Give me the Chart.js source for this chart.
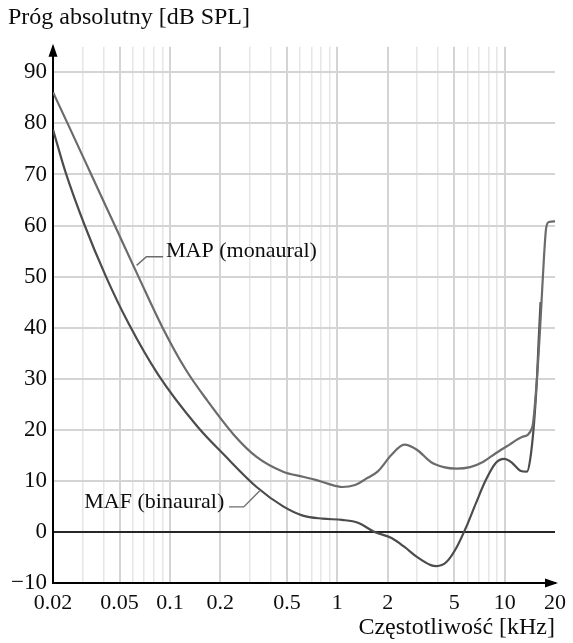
<!DOCTYPE html>
<html>
<head>
<meta charset="utf-8">
<script src="https://cdn.jsdelivr.net/npm/chart.js@4.4.1/dist/chart.umd.min.js"></script>
<style>
  html, body { margin: 0; padding: 0; background: #fff; overflow: hidden; }
  #wrap { width: 573px; height: 643px; position: relative; }
</style>
</head>
<body>
<div id="wrap"><canvas id="c"></canvas></div>
<script>
// Absolute threshold of hearing: minimum audible pressure (monaural)
const freqMAP = [0.02, 0.02444, 0.03384, 0.04683, 0.06481, 0.08973, 0.1242, 0.1673, 0.2412, 0.3294, 0.4748, 0.6223, 0.7422, 0.8854, 1.07, 1.276, 1.52, 1.74, 2.11, 2.51, 2.99, 3.62, 4.32, 5.15, 6.22, 7.42, 8.85, 10.7, 12.7, 14.6, 15.6, 16.3, 16.8, 17.2, 17.7, 18.4, 20];
const dbMAP   = [86.1, 80, 70, 60, 50, 40.2, 31.8, 25.7, 19.0, 14.7, 11.8, 10.8, 10.2, 9.4, 8.8, 9.2, 10.6, 11.8, 15.1, 17.1, 16.1, 13.7, 12.7, 12.4, 12.7, 13.7, 15.4, 17.1, 18.6, 20.4, 30, 40, 48, 54, 59.5, 60.7, 60.8];

// Minimum audible field (binaural)
const freqMAF = [0.02, 0.02379, 0.03078, 0.04146, 0.05662, 0.085, 0.1462, 0.2106, 0.3294, 0.4748, 0.6223, 0.8162, 1.07, 1.329, 1.67, 2.11, 2.51, 2.99, 3.62, 3.92, 4.49, 5.15, 5.9, 6.75, 7.73, 8.85, 9.96, 11.1, 12.4, 13.6, 14.2, 15.0, 15.6, 16.0, 16.4];
const dbMAF   = [78.8, 70.4, 60.2, 50.0, 40.8, 30.8, 20.6, 15.1, 8.8, 5.0, 3.2, 2.6, 2.35, 1.8, 0, -1.2, -2.9, -4.9, -6.5, -6.7, -5.9, -3.1, 1.0, 5.7, 10.2, 13.5, 14.3, 13.5, 12.0, 11.8, 14.1, 21.4, 30, 38, 45];

const seriesNames = ['MAP (monaural)', 'MAF (binaural)'];

// Frequency axis (kHz): labelled ticks
const xLabelValues = [0.02, 0.05, 0.1, 0.2, 0.5, 1, 2, 5, 10, 20];
const xLabelTexts  = ['0.02', '0.05', '0.1', '0.2', '0.5', '1', '2', '5', '10', '20'];

// Level axis (dB SPL)
const yMin = -10, yMax = 95, yGridStep = 5, yLabelStep = 10, yLabelTop = 90;

const yTitle = 'Próg absolutny [dB SPL]';
const xTitle = 'Częstotliwość [kHz]';

const FONT = "'Liberation Serif', 'Times New Roman', serif";
const INK = '#0d0d0d';

const toPoints = (xs, ys) => xs.map((x, i) => ({ x: x, y: ys[i] }));
const isLabelled = v => xLabelValues.some(t => Math.abs(t - v) < 1e-9);

// Curve captions with leader lines, anchored in data space
const captions = [
  { text: seriesNames[0], align: 'left',  at: [0.0947, 54.9], leader: [[0.0632, 52.2], [0.0723, 53.9], [0.091, 53.9]] },
  { text: seriesNames[1], align: 'right', at: [0.211, 5.9],   leader: [[0.343, 8.0], [0.276, 4.9], [0.2255, 4.9]] }
];

const decorations = {
  id: 'decorations',
  afterDatasetsDraw(chart) {
    const { ctx, chartArea: a, scales: { x, y } } = chart;
    ctx.save();
    // captions and leaders
    ctx.strokeStyle = '#6c6c6c';
    ctx.lineWidth = 1.4;
    ctx.font = '22px ' + FONT;
    ctx.fillStyle = INK;
    ctx.textBaseline = 'middle';
    captions.forEach(c => {
      ctx.beginPath();
      c.leader.forEach((p, i) => {
        const px = x.getPixelForValue(p[0]), py = y.getPixelForValue(p[1]);
        if (i === 0) ctx.moveTo(px, py); else ctx.lineTo(px, py);
      });
      ctx.stroke();
      ctx.textAlign = c.align;
      ctx.fillText(c.text, x.getPixelForValue(c.at[0]), y.getPixelForValue(c.at[1]));
    });
    // axis arrowheads
    ctx.fillStyle = '#000';
    ctx.beginPath();
    ctx.moveTo(a.left, a.top - 3);
    ctx.lineTo(a.left - 4.5, a.top + 10);
    ctx.lineTo(a.left + 4.5, a.top + 10);
    ctx.closePath();
    ctx.fill();
    ctx.beginPath();
    ctx.moveTo(a.right + 3, a.bottom);
    ctx.lineTo(a.right - 10, a.bottom - 4.5);
    ctx.lineTo(a.right - 10, a.bottom + 4.5);
    ctx.closePath();
    ctx.fill();
    ctx.restore();
  }
};

new Chart(document.getElementById('c'), {
  type: 'line',
  data: {
    datasets: [
      {
        label: seriesNames[0],
        data: toPoints(freqMAP, dbMAP),
        borderColor: '#6b6b6b',
        borderWidth: 2.2,
        pointRadius: 0,
        cubicInterpolationMode: 'monotone',
        fill: false
      },
      {
        label: seriesNames[1],
        data: toPoints(freqMAF, dbMAF),
        borderColor: '#4c4c4c',
        borderWidth: 2.2,
        pointRadius: 0,
        cubicInterpolationMode: 'monotone',
        fill: false
      }
    ]
  },
  options: {
    responsive: true,
    maintainAspectRatio: false,
    animation: false,
    events: [],
    layout: { padding: { left: 8, right: 0, top: 0, bottom: 0 } },
    plugins: {
      legend: { display: false },
      tooltip: { enabled: false },
      title: {
        display: true,
        text: yTitle,
        align: 'start',
        color: INK,
        font: { family: FONT, size: 24, weight: 'normal' },
        padding: { top: 3, bottom: 15 }
      }
    },
    scales: {
      x: {
        type: 'logarithmic',
        min: 0.02,
        max: 20,
        afterBuildTicks(scale) {
          const vals = [];
          for (let e = -2; e <= 1; e++) {
            for (let m = 1; m <= 9; m++) {
              const v = +(m * Math.pow(10, e)).toPrecision(3);
              if (v >= 0.02 && v <= 20) vals.push(v);
            }
          }
          scale.ticks = vals.map(v => ({ value: v }));
        },
        afterFit(scale) { scale.height = 60; },
        ticks: {
          autoSkip: false,
          maxRotation: 0,
          padding: 7,
          color: INK,
          font: { family: FONT, size: 22 },
          callback(value) {
            const i = xLabelValues.findIndex(t => Math.abs(t - value) < 1e-9);
            return i >= 0 ? xLabelTexts[i] : '';
          }
        },
        grid: {
          drawTicks: false,
          color(ctx) {
            const v = ctx.tick ? ctx.tick.value : null;
            if (v === null) return 'rgba(0,0,0,0)';
            if (Math.abs(v - 20) < 1e-9) return 'rgba(0,0,0,0)';
            return isLabelled(v) ? '#d4d4d4' : '#e6e6e6';
          },
          lineWidth(ctx) {
            const v = ctx.tick ? ctx.tick.value : 0;
            return isLabelled(v) ? 2 : 1.5;
          }
        },
        border: { display: true, color: '#000', width: 2 },
        title: {
          display: true,
          text: xTitle,
          align: 'end',
          color: INK,
          font: { family: FONT, size: 24 },
          padding: { top: 0, bottom: 1 }
        }
      },
      y: {
        type: 'linear',
        min: yMin,
        max: yMax,
        afterFit(scale) { scale.width = 45; },
        ticks: {
          stepSize: yGridStep,
          padding: 6,
          color: INK,
          font: { family: FONT, size: 23 },
          callback(value) {
            if (value % yLabelStep !== 0 || value > yLabelTop) return '';
            return value < 0 ? '\u2212' + Math.abs(value) : String(value);
          }
        },
        grid: {
          drawTicks: false,
          color(ctx) {
            const v = ctx.tick ? ctx.tick.value : null;
            if (v === 0) return '#262626';
            if (v === null) return 'rgba(0,0,0,0)';
            return v % yLabelStep === 0 ? '#d4d4d4' : '#e6e6e6';
          },
          lineWidth(ctx) {
            const v = ctx.tick ? ctx.tick.value : null;
            if (v === 0) return 2;
            return v % yLabelStep === 0 ? 2 : 1.5;
          }
        },
        border: { display: true, color: '#000', width: 2 }
      }
    }
  },
  plugins: [decorations]
});
</script>
</body>
</html>
